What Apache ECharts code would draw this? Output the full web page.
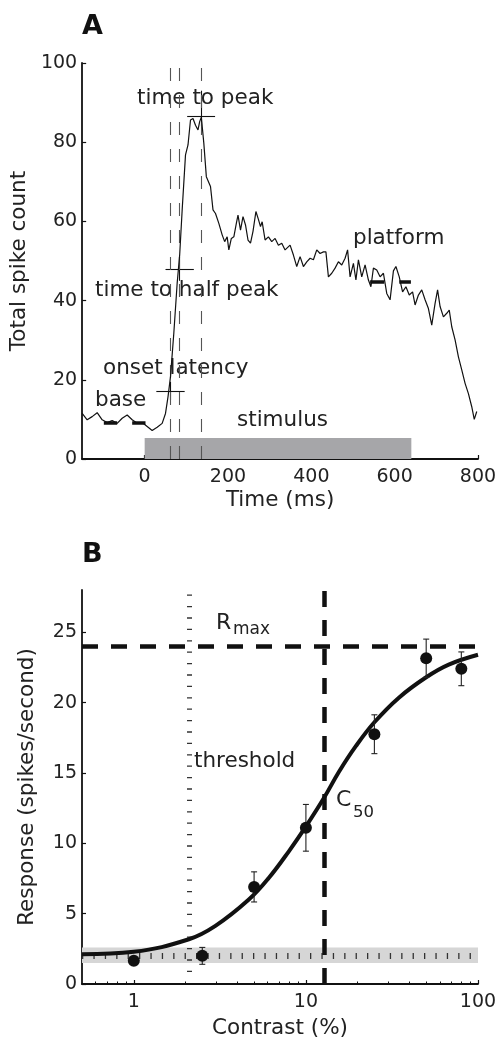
<!DOCTYPE html>
<html>
<head>
<meta charset="utf-8">
<script src="https://cdn.jsdelivr.net/npm/echarts@6/dist/echarts.min.js"></script>
<style>
html,body{margin:0;padding:0;background:#fff;}
#chart{width:500px;height:1043px;}
</style>
</head>
<body>
<div id="chart"></div>
<script>
// ---------- Panel A data ----------
const timeMs = [-150,-138,-126,-114,-102,-90,-78,-66,-54,-42,-30,-18,-6,6,18,30,42,50,56,62,70,78,84,90,98,104,110,116,122,128,132,136,142,148,152,158,164,170,178,186,192,198,202,208,214,220,224,230,236,242,248,254,260,267,273,278,282,289,297,305,313,321,329,337,349,357,365,373,381,389,397,405,413,421,429,435,441,449,457,465,473,481,487,493,501,507,513,521,529,537,543,549,557,565,573,581,589,597,603,611,619,627,635,643,649,657,665,673,681,689,697,703,709,717,725,731,737,745,753,761,769,777,785,791,797];
const spikeCount = [11.5,9.9,10.7,11.7,9.9,9.2,9.7,9.0,10.3,11.1,9.9,9.0,9.2,8.2,7.2,8.0,9.0,11.5,15.7,20.8,31.8,44.4,51.5,62.9,76.8,79.3,85.6,86.0,84.3,83.1,85.2,86.3,79.7,71.3,71.7,68.8,62.9,62.0,59.5,56.6,54.9,56.1,52.8,55.7,56.1,59.5,61.6,57.8,61.2,59.1,55.3,54.5,57.5,62.5,60.5,58.7,59.9,55.3,56.1,54.9,55.7,54.0,54.5,52.8,54.0,51.5,48.6,51.1,48.6,49.8,50.7,50.3,52.8,51.9,52.3,52.3,46.0,46.9,48.2,49.8,49.0,50.7,52.8,46.0,49.4,45.2,50.3,46.0,49.0,45.2,43.5,48.2,47.7,46.0,46.9,41.8,40.2,47.5,48.6,46.0,42.2,43.5,41.4,42.2,38.9,41.4,42.7,40.2,38.0,33.8,39.3,42.7,38.5,35.9,36.8,37.6,33.4,30.1,25.8,22.5,19.1,16.5,13.2,10.0,12.0];
const timeTicks = [0,200,400,600,800];
const countTicks = [0,20,40,60,80,100];
const eventTimes = [61,83,135];           // onset, half peak, peak (ms)
const stimulus = [0,640,5.3];             // start, end, height
const peakCross = {t:135, v:86.6, t0:102, t1:169, v0:84, v1:93};
const halfCross = {t:83, v:47.9, t0:50, t1:118, v0:45, v1:51};
const onsetCross = {t:61, v:17.2, t0:28, t1:96, v0:14.9, v1:19.5};
const baseLevel = 9.2, baseWindows = [[-98,-66],[-30,2]];
const platformLevel = 44.8, platformWindows = [[541,575],[611,639]];

// ---------- Panel B data ----------
const contrast = [1,2.5,5,10,25,50,80];
const response = [1.65,2.0,6.9,11.1,17.75,23.15,22.4];
const responseErr = [0.2,0.6,1.07,1.66,1.38,1.36,1.2];
const fitContrast = [0.5,1,2.09,2.98,4.66,6.1,7.96,10,12.7,15.6,19.5,25,34.7,50,67.6,100];
const fitResponse = [2.12,2.29,3.18,4.13,6.0,7.55,9.43,11.2,13.2,15.1,16.9,18.6,20.35,21.8,22.7,23.4];
const contrastTicks = [1,10,100];
const contrastMinor = [0.6,0.7,0.8,0.9,2,3,4,5,6,7,8,9,20,30,40,50,60,70,80,90];
const responseTicks = [0,5,10,15,20,25];
const thresholdC = 2.1, thresholdSpan = [0.85,27.7];
const c50 = 12.7, rmax = 24;
const baseBand = [1.5,2.6], baseMean = 2.0;

const FONT = 'DejaVu Sans';
const chart = echarts.init(document.getElementById('chart'), null, {renderer:'canvas'});

const axisLineStyle = {show:true, onZero:false, lineStyle:{color:'#111', width:1.8}};
const tickStyle = (vals)=>({show:true, inside:true, length:4, customValues:vals, lineStyle:{color:'#111', width:1.2}});
const labelStyle = (vals, m)=>({show:true, customValues:vals, color:'#222', fontFamily:FONT, fontSize:19, margin:m});
const nameStyle = {color:'#222', fontFamily:FONT, fontSize:21.5};

function seg(x0,y0,x1,y1,style){return [{coord:[x0,y0],lineStyle:style},{coord:[x1,y1]}];}
const thin = {color:'#111', width:1.1, type:'solid'};
const thick = {color:'#111', width:3.5, type:'solid'};
const crossLines = [];
[peakCross, halfCross, onsetCross].forEach(c=>{
  crossLines.push(seg(c.t0,c.v,c.t1,c.v,thin));
  crossLines.push(seg(c.t,c.v0,c.t,c.v1,thin));
});
baseWindows.forEach(w=>crossLines.push(seg(w[0],baseLevel,w[1],baseLevel,thick)));
platformWindows.forEach(w=>crossLines.push(seg(w[0],platformLevel,w[1],platformLevel,thick)));
eventTimes.forEach(t=>crossLines.push([{coord:[t,0],lineStyle:{color:'#555',width:1.1,type:[13,14]}},{coord:[t,100]}]));

const option = {
  animation:false,
  backgroundColor:'#fff',
  grid:[
    {left:82, top:63, width:396, height:396},
    {left:82, top:590, width:396, height:394}
  ],
  xAxis:[
    {gridIndex:0, type:'value', min:-150, max:800, axisLine:axisLineStyle, axisTick:tickStyle(timeTicks),
     axisLabel:labelStyle(timeTicks,9), splitLine:{show:false},
     name:'Time (ms)', nameLocation:'middle', nameGap:30, nameTextStyle:nameStyle},
    {gridIndex:1, type:'log', logBase:10, min:0.5, max:100, axisLine:axisLineStyle, axisTick:tickStyle(contrastTicks),
     axisLabel:labelStyle(contrastTicks,9), splitLine:{show:false}, minorTick:{show:false},
     name:'Contrast (%)', nameLocation:'middle', nameGap:33, nameTextStyle:nameStyle},
    {gridIndex:1, type:'log', logBase:10, min:0.5, max:100, position:'bottom', offset:0,
     axisLine:{show:false, onZero:false}, axisTick:{show:true, inside:true, length:2.5, customValues:contrastMinor, lineStyle:{color:'#111',width:1}},
     axisLabel:{show:false}, splitLine:{show:false}}
  ],
  yAxis:[
    {gridIndex:0, type:'value', min:0, max:100, axisLine:axisLineStyle, axisTick:tickStyle(countTicks),
     axisLabel:labelStyle(countTicks,5), splitLine:{show:false},
     name:'Total spike count', nameLocation:'middle', nameGap:44, nameTextStyle:nameStyle},
    {gridIndex:1, type:'value', min:0, max:28, axisLine:axisLineStyle, axisTick:tickStyle(responseTicks),
     axisLabel:labelStyle(responseTicks,5), splitLine:{show:false},
     name:'Response (spikes/second)', nameLocation:'middle', nameGap:44, nameTextStyle:nameStyle}
  ],
  series:[
    {type:'line', xAxisIndex:0, yAxisIndex:0, data:timeMs.map((t,i)=>[t,spikeCount[i]]),
     showSymbol:false, lineStyle:{color:'#111', width:1.2}, z:5,
     markArea:{silent:true, itemStyle:{color:'#a6a6a9'}, data:[[{coord:[stimulus[0],0]},{coord:[stimulus[1],stimulus[2]]}]]},
     markLine:{silent:true, symbol:['none','none'], label:{show:false}, data:crossLines}
    },
    {type:'line', xAxisIndex:1, yAxisIndex:1, data:fitContrast.map((c,i)=>[c,fitResponse[i]]),
     showSymbol:false, smooth:0.4, lineStyle:{color:'#111', width:4}, z:6,
     markArea:{silent:true, itemStyle:{color:'#d6d6d6'}, data:[[{yAxis:baseBand[0]},{yAxis:baseBand[1]}]]},
     markLine:{silent:true, symbol:['none','none'], label:{show:false}, data:[
       {yAxis:baseMean, lineStyle:{color:'#333', width:6, type:[1.3,10.1]}},
       [{coord:[thresholdC,thresholdSpan[0]],lineStyle:{color:'#333', width:5, type:[1.3,10.1]}},{coord:[thresholdC,thresholdSpan[1]]}],
       {yAxis:rmax, lineStyle:{color:'#111', width:4.5, type:[16,13]}},
       {xAxis:c50, lineStyle:{color:'#111', width:4.5, type:[16,13]}}
     ]}
    },
    {type:'custom', xAxisIndex:1, yAxisIndex:1, z:7,
     data:contrast.map((c,i)=>[c,response[i],responseErr[i]]),
     renderItem:function(params, api){
       const x=api.value(0), y=api.value(1), e=api.value(2);
       const top=api.coord([x,y+e]), bot=api.coord([x,y-e]);
       const st={stroke:'#222', lineWidth:1.1};
       return {type:'group', children:[
         {type:'line', shape:{x1:top[0],y1:top[1],x2:bot[0],y2:bot[1]}, style:st},
         {type:'line', shape:{x1:top[0]-3,y1:top[1],x2:top[0]+3,y2:top[1]}, style:st},
         {type:'line', shape:{x1:bot[0]-3,y1:bot[1],x2:bot[0]+3,y2:bot[1]}, style:st}
       ]};
     }
    },
    {type:'scatter', xAxisIndex:1, yAxisIndex:1, z:8, data:contrast.map((c,i)=>[c,response[i]]),
     symbol:'circle', symbolSize:12, itemStyle:{color:'#111', opacity:1}}
  ],
  graphic:[
    {type:'text', x:82, y:26.5, style:{text:'A', fontFamily:FONT, fontWeight:'bold', fontSize:27, fill:'#111', align:'left', verticalAlign:'middle'}},
    {type:'text', x:82, y:554.5, style:{text:'B', fontFamily:FONT, fontWeight:'bold', fontSize:27, fill:'#111', align:'left', verticalAlign:'middle'}},
    {type:'text', x:137, y:98.5, style:{text:'time to peak', fontFamily:FONT, fontSize:21.5, fill:'#222', align:'left', verticalAlign:'middle'}},
    {type:'text', x:95, y:290, style:{text:'time to half peak', fontFamily:FONT, fontSize:21.5, fill:'#222', align:'left', verticalAlign:'middle'}},
    {type:'text', x:103, y:368.5, style:{text:'onset latency', fontFamily:FONT, fontSize:21.5, fill:'#222', align:'left', verticalAlign:'middle'}},
    {type:'text', x:95, y:400, style:{text:'base', fontFamily:FONT, fontSize:21.5, fill:'#222', align:'left', verticalAlign:'middle'}},
    {type:'text', x:237, y:420, style:{text:'stimulus', fontFamily:FONT, fontSize:21.5, fill:'#222', align:'left', verticalAlign:'middle'}},
    {type:'text', x:353, y:238.5, style:{text:'platform', fontFamily:FONT, fontSize:21.5, fill:'#222', align:'left', verticalAlign:'middle'}},
    {type:'text', x:194, y:761, style:{text:'threshold', fontFamily:FONT, fontSize:21.5, fill:'#222', align:'left', verticalAlign:'middle'}},
    {type:'text', x:216, y:623.5, style:{text:'R', fontFamily:FONT, fontSize:22, fill:'#222', align:'left', verticalAlign:'middle'}},
    {type:'text', x:233, y:629.5, style:{text:'max', fontFamily:FONT, fontSize:17, fill:'#222', align:'left', verticalAlign:'middle'}},
    {type:'text', x:336, y:800, style:{text:'C', fontFamily:FONT, fontSize:22, fill:'#222', align:'left', verticalAlign:'middle'}},
    {type:'text', x:353, y:812.5, style:{text:'50', fontFamily:FONT, fontSize:16.5, fill:'#222', align:'left', verticalAlign:'middle'}}
  ]
};
chart.setOption(option);
</script>
</body>
</html>
